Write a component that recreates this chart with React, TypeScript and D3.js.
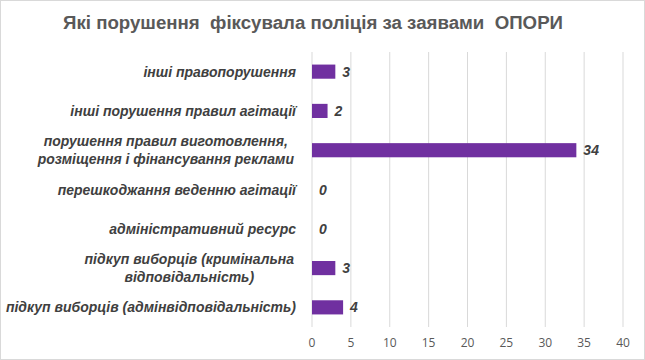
import React from "react";
import * as d3 from "d3";

const title = "Які порушення  фіксувала поліція за заявами  ОПОРИ";
const categories: string[][] = [
  ["інші правопорушення"],
  ["інші порушення правил агітації"],
  ["порушення правил виготовлення,", "розміщення і фінансування реклами"],
  ["перешкоджання веденню агітації"],
  ["адміністративний ресурс"],
  ["підкуп виборців (кримінальна", "відповідальність)"],
  ["підкуп виборців (адмінвідповідальність)"],
];
const values = [3, 2, 34, 0, 0, 3, 4];
const ticks = [0, 5, 10, 15, 20, 25, 30, 35, 40];

const W = 645;
const H = 360;
const plot = { left: 312, right: 623, top: 52, bottom: 327 };
const labelFont = "'Liberation Sans', Arial, sans-serif";
const labelRight = 296;

export default function App() {
  const x = d3.scaleLinear().domain([0, 40]).range([plot.left, plot.right]);
  const idx = categories.map((_, i) => i);
  const y = d3
    .scaleBand<number>()
    .domain(idx)
    .range([plot.top, plot.bottom])
    .paddingInner(0.64)
    .paddingOuter(0.32);
  const labelRef = React.useRef<SVGGElement>(null);

  React.useEffect(() => {
    const g = labelRef.current;
    if (!g) return;
    d3.select(g)
      .selectAll<SVGTextElement, unknown>("text.multi")
      .each(function () {
        const spans = Array.from(this.querySelectorAll("tspan")) as SVGTSpanElement[];
        const maxW = d3.max(spans, (s) => s.getComputedTextLength()) || 0;
        spans.forEach((s) => s.setAttribute("x", String(labelRight - 2 - maxW / 2)));
      });
  }, []);

  return (
    <svg
      width={W}
      height={H}
      style={{ position: "absolute", left: 0, top: 0, background: "#fff" }}
    >
      <rect x={0.5} y={0.5} width={W - 1} height={H - 1} fill="#fff" stroke="#d9d9d9" />
      <text
        x={313}
        y={29}
        textAnchor="middle"
        fontFamily="'Liberation Sans', Arial, sans-serif"
        fontWeight="bold"
        fontSize={18}
        fill="#595959"
        textLength={500}
        lengthAdjust="spacingAndGlyphs"
        style={{ whiteSpace: "pre" }}
      >
        {title}
      </text>
      {ticks.map((t) => (
        <g key={t}>
          <line
            x1={x(t)}
            x2={x(t)}
            y1={plot.top}
            y2={plot.bottom}
            stroke="#d9d9d9"
            strokeWidth={1}
          />
          <text
            x={x(t)}
            y={347}
            textAnchor="middle"
            fontFamily="'Open Sans', sans-serif"
            fontSize={12}
            fill="#595959"
          >
            {t}
          </text>
        </g>
      ))}
      {values.map((v, i) => {
        const yc = (y(i) as number) + y.bandwidth() / 2;
        return (
          <g key={i}>
            <rect
              x={x(0)}
              y={y(i) as number}
              width={x(v) - x(0)}
              height={y.bandwidth()}
              fill="#7030a0"
            />
            <text
              x={x(v) + 7}
              y={yc + 5}
              fontFamily={labelFont}
              fontWeight="bold"
              fontStyle="italic"
              fontSize={14}
              fill="#404040"
            >
              {v}
            </text>
          </g>
        );
      })}
      <g ref={labelRef}>
        {categories.map((lines, i) => {
          const yc = (y(i) as number) + y.bandwidth() / 2;
          const lh = 18;
          const multi = lines.length > 1;
          const y0 = yc - ((lines.length - 1) * lh) / 2 + 5;
          return (
            <text
              key={i}
              className={multi ? "multi" : "single"}
              fontFamily={labelFont}
              fontWeight="bold"
              fontStyle="italic"
              fontSize={14}
              fill="#404040"
              textAnchor={multi ? "middle" : "end"}
            >
              {lines.map((l, j) => (
                <tspan key={j} x={multi ? 200 : labelRight} y={y0 + j * lh}>
                  {l}
                </tspan>
              ))}
            </text>
          );
        })}
      </g>
    </svg>
  );
}
